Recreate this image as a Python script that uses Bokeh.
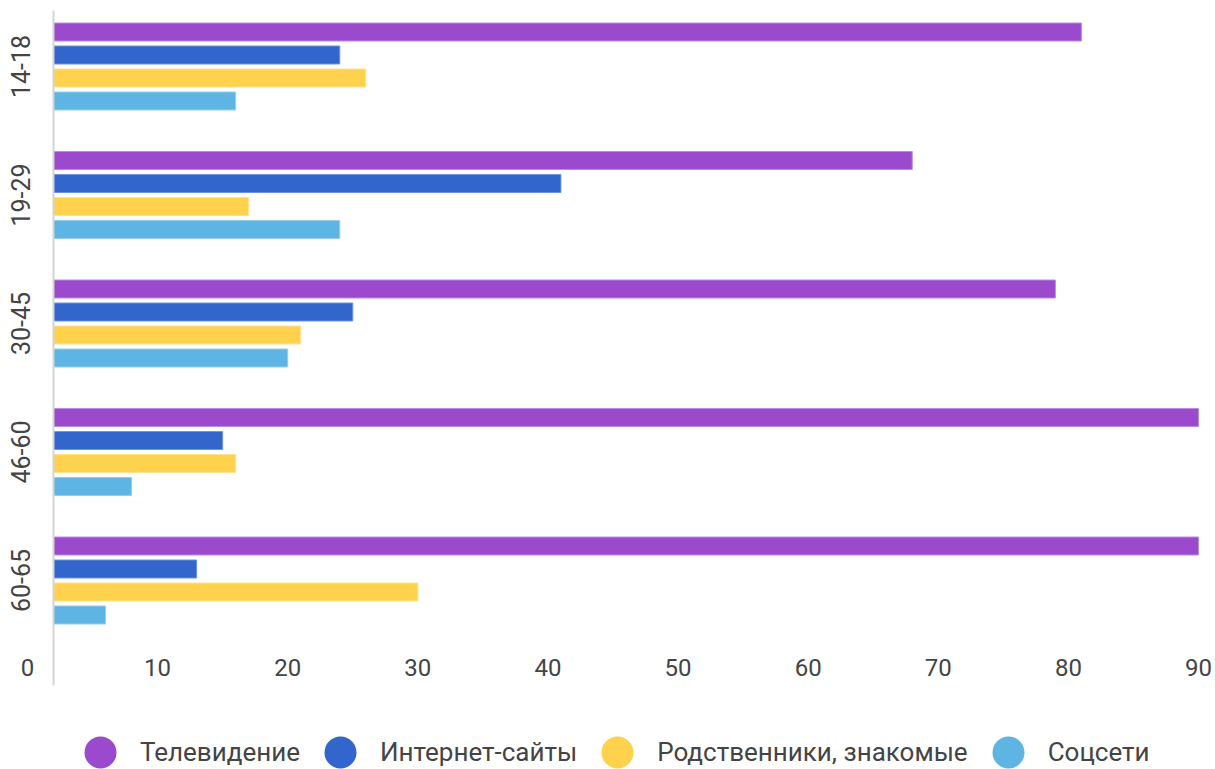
from bokeh.plotting import figure
from bokeh.models import ColumnDataSource, Range1d, FixedTicker, Legend, LegendItem
from bokeh.transform import dodge
from bokeh.embed import file_html
from bokeh.resources import INLINE

# ---- data ----
groups = ["14-18", "19-29", "30-45", "46-60", "60-65"]
series_names = ["Телевидение", "Интернет-сайты", "Родственники, знакомые", "Соцсети"]
tv = [81, 68, 79, 90, 90]
internet = [24, 41, 25, 15, 13]
relatives = [26, 17, 21, 16, 30]
social = [16, 24, 20, 8, 6]
x_ticks = [0, 10, 20, 30, 40, 50, 60, 70, 80, 90]
baseline = 2  # value where the bars and the vertical axis line start

# ---- style / layout ----
fill_colors = ["#9B4ACE", "#3366CC", "#FFD24D", "#5EB5E3"]
line_colors = ["#B98AE0", "#6F93DC", "#FFE28F", "#95CFEE"]
FONT = "Roboto"
TXT = "#444444"

W, H = 1215, 769
X_PX = 13.011          # px per value unit
X0_PX = 27             # pixel of value 0
GROUP_PX = 128.5       # px between groups
TOP_GROUP_PX = 66      # pixel of first group centre

pos = list(range(len(groups) - 1, -1, -1))
x_start = -X0_PX / X_PX
x_end = x_start + W / X_PX
y_end = pos[0] + TOP_GROUP_PX / GROUP_PX
y_start = y_end - H / GROUP_PX


def ypix(px):
    return y_end - px / GROUP_PX


bar_h = 18 / GROUP_PX
offsets = [k * 23 / GROUP_PX for k in (1.5, 0.5, -0.5, -1.5)]

source = ColumnDataSource(dict(pos=pos, tv=tv, internet=internet,
                               relatives=relatives, social=social))
cols = ["tv", "internet", "relatives", "social"]

p = figure(width=W, height=H,
           x_range=Range1d(x_start, x_end), y_range=Range1d(y_start, y_end),
           output_backend="svg", toolbar_location=None,
           min_border_left=0, min_border_right=0,
           min_border_top=0, min_border_bottom=0)

for j, col in enumerate(cols):
    p.hbar(y=dodge("pos", offsets[j], range=p.y_range), left=baseline, right=col,
           height=bar_h, fill_color=fill_colors[j], line_color=line_colors[j],
           line_width=1, source=source)

# legend: circle markers (hidden renderers used only as legend glyphs)
items = []
for j, (name, col) in enumerate(zip(series_names, cols)):
    r = p.scatter(x=col, y="pos", marker="circle", fill_color=fill_colors[j],
                  line_color=None, source=source)
    r.visible = False
    items.append(LegendItem(label=name, renderers=[r]))

legend = Legend(items=items, orientation="horizontal", location=(60, -23),
                glyph_width=80, glyph_height=80, label_standoff=0, spacing=0,
                padding=0, margin=0, border_line_color=None,
                background_fill_alpha=0, inactive_fill_alpha=0,
                label_text_font=FONT, label_text_font_size="26px",
                label_text_color=TXT)
p.add_layout(legend)

# axes
p.xgrid.visible = False
p.ygrid.visible = False
p.outline_line_color = None

p.yaxis.fixed_location = baseline
p.yaxis.bounds = (ypix(685), ypix(10))
p.yaxis.ticker = FixedTicker(ticks=pos)
p.yaxis.major_label_overrides = {k: g for k, g in zip(pos, groups)}
p.yaxis.major_label_orientation = "vertical"
p.yaxis.major_tick_out = 0
p.yaxis.major_tick_in = 0
p.yaxis.minor_tick_out = 0
p.yaxis.minor_tick_in = 0
p.yaxis.axis_line_color = "#d4d4d4"
p.yaxis.axis_line_width = 2
p.yaxis.major_label_standoff = 24
p.yaxis.major_label_text_font = FONT
p.yaxis.major_label_text_font_size = "25px"
p.yaxis.major_label_text_color = TXT

p.xaxis.fixed_location = ypix(658)
p.xaxis.ticker = FixedTicker(ticks=x_ticks)
p.xaxis.axis_line_color = None
p.xaxis.major_tick_out = 0
p.xaxis.major_tick_in = 0
p.xaxis.minor_tick_out = 0
p.xaxis.minor_tick_in = 0
p.xaxis.major_label_standoff = 0
p.xaxis.major_label_text_font = FONT
p.xaxis.major_label_text_font_size = "24px"
p.xaxis.major_label_text_color = TXT

open("out.html", "w").write(file_html(p, INLINE))
